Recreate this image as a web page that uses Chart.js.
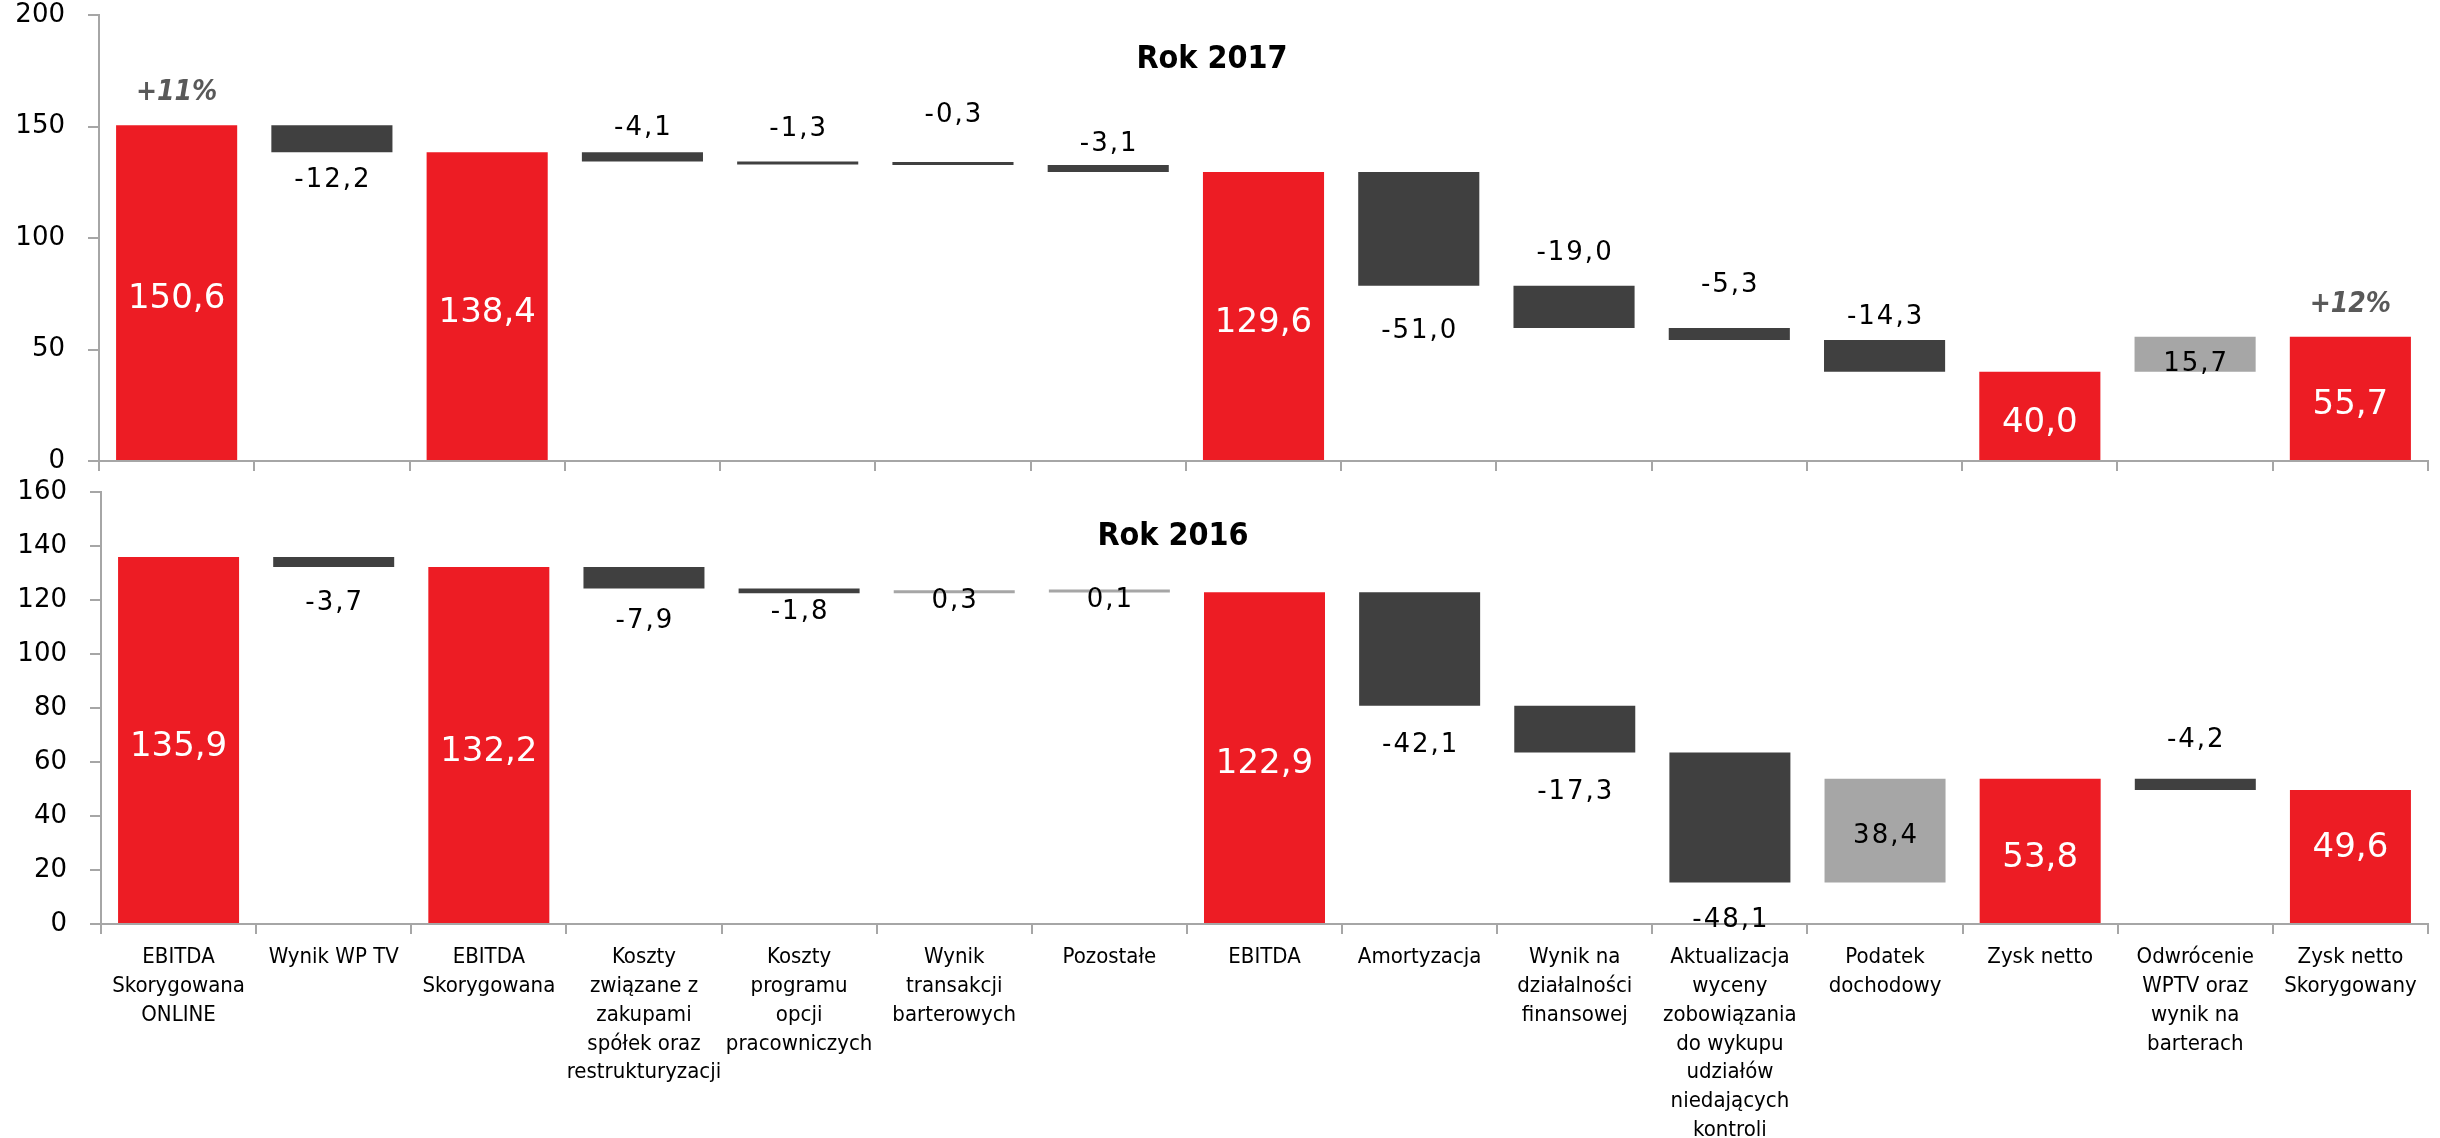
<!DOCTYPE html>
<html lang="pl">
<head>
<meta charset="utf-8">
<title>Rok 2017 / Rok 2016</title>
<script src="https://cdn.jsdelivr.net/npm/chart.js@4.4.1/dist/chart.umd.min.js"></script>
<style>
    body { margin: 0; background: #fff; }
    #wrap { position: relative; width: 2440px; height: 1138px; }
    #wykres2016 { position: absolute; left: 0; top: 470px; }
    #wykres2017 { position: absolute; left: 0; top: 0; }
</style>
</head>
<body>
<div id="wrap">
    <canvas id="wykres2016" width="2440" height="668"></canvas>
    <canvas id="wykres2017" width="2440" height="480"></canvas>
</div>
<script>
// Kategorie (wspólne dla obu lat)
const kategorie = [
    ['EBITDA', 'Skorygowana', 'ONLINE'],
    ['Wynik WP TV'],
    ['EBITDA', 'Skorygowana'],
    ['Koszty', 'związane z', 'zakupami', 'spółek oraz', 'restrukturyzacji'],
    ['Koszty', 'programu', 'opcji', 'pracowniczych'],
    ['Wynik', 'transakcji', 'barterowych'],
    ['Pozostałe'],
    ['EBITDA'],
    ['Amortyzacja'],
    ['Wynik na', 'działalności', 'finansowej'],
    ['Aktualizacja', 'wyceny', 'zobowiązania', 'do wykupu', 'udziałów', 'niedających', 'kontroli'],
    ['Podatek', 'dochodowy'],
    ['Zysk netto'],
    ['Odwrócenie', 'WPTV oraz', 'wynik na', 'barterach'],
    ['Zysk netto', 'Skorygowany']
];

// 'suma' = słupek od zera, 'zmiana' = słupek pływający
const typ = ['suma', 'zmiana', 'suma', 'zmiana', 'zmiana', 'zmiana', 'zmiana', 'suma',
             'zmiana', 'zmiana', 'zmiana', 'zmiana', 'suma', 'zmiana', 'suma'];

const wartosci2017 = [150.6, -12.2, 138.4, -4.1, -1.3, -0.3, -3.1, 129.6, -51.0, -19.0, -5.3, -14.3, 40.0, 15.7, 55.7];
const wartosci2016 = [135.9, -3.7, 132.2, -7.9, -1.8, 0.3, 0.1, 122.9, -42.1, -17.3, -48.1, 38.4, 53.8, -4.2, 49.6];

const dynamika2017 = ['+11%', null, null, null, null, null, null, null, null, null, null, null, null, null, '+12%'];

const osY2017 = [0, 50, 100, 150, 200];
const osY2016 = [0, 20, 40, 60, 80, 100, 120, 140, 160];

// Położenie etykiet wartości (in / above / below) i odstęp w px
const etykiety2017 = ['in', 'below', 'in', 'above', 'above', 'above', 'above', 'in', 'below', 'above', 'above', 'above', 'in', 'in', 'in'];
const odstep2017 = [7, 28, 7, 24, 32, 47, 21, 7, 46, 32, 43, 23, 7, 10, 7];
const etykiety2016 = ['in', 'below', 'in', 'below', 'below', 'below', 'below', 'in', 'below', 'below', 'below', 'in', 'in', 'above', 'in'];
const odstep2016 = [7, 36, 7, 33, 19, 8, 8, 7, 39, 40, 38, 6, 7, 38, -8];

const CZERWONY = '#ED1C24';
const CIEMNY = '#404040';
const JASNY = '#A6A6A6';
const OS = '#A6A6A6';

// Buduje słupki pływające z narastającej sumy
function zbudujKroki(wartosci) {
    let suma = 0;
    return wartosci.map((v, i) => {
        if (typ[i] === 'suma') {
            suma = v;
            return [0, v];
        }
        const start = suma;
        suma = Math.round((suma + v) * 10) / 10;
        return [start, suma];
    });
}

function kolory(wartosci) {
    return wartosci.map((v, i) => {
        if (typ[i] === 'suma') return CZERWONY;
        return v < 0 ? CIEMNY : JASNY;
    });
}

const fmt = v => v.toFixed(1).replace('.', ',');

// Etykiety wartości, tytuł i dynamika rysowane po słupkach
function wtyczkaEtykiet(cfg) {
    return {
        id: 'etykiety',
        afterDatasetsDraw(chart) {
            const ctx = chart.ctx;
            const meta = chart.getDatasetMeta(0);
            ctx.save();
            ctx.textAlign = 'center';
            ctx.textBaseline = 'middle';
            meta.data.forEach((bar, i) => {
                const v = cfg.wartosci[i];
                const gora = Math.min(bar.y, bar.base);
                const dol = Math.max(bar.y, bar.base);
                let y;
                if (cfg.pozycje[i] === 'above') y = gora - cfg.odstepy[i];
                else if (cfg.pozycje[i] === 'below') y = dol + cfg.odstepy[i];
                else y = (gora + dol) / 2 + cfg.odstepy[i];
                if (typ[i] === 'suma') {
                    ctx.font = '34px "DejaVu Sans"';
                    ctx.fillStyle = '#fff';
                    ctx.letterSpacing = '0px';
                    ctx.fillText(fmt(v), bar.x, y);
                } else {
                    ctx.font = '26px "DejaVu Sans"';
                    ctx.fillStyle = '#000';
                    ctx.letterSpacing = '2px';
                    ctx.fillText(fmt(v), bar.x + 1, y);
                }
                ctx.letterSpacing = '0px';

                if (cfg.dynamika && cfg.dynamika[i]) {
                    ctx.font = 'italic bold 28px "DejaVu Sans Condensed", "DejaVu Sans"';
                    ctx.fillStyle = '#595959';
                    ctx.fillText(cfg.dynamika[i], bar.x, gora - 32);
                }
            });
            ctx.font = 'bold 32px "DejaVu Sans Condensed", "DejaVu Sans"';
            ctx.fillStyle = '#000';
            ctx.fillText(cfg.tytul, cfg.tytulX, chart.chartArea.top + 45);
            ctx.restore();
        }
    };
}

function rysujWykres(id, cfg) {
    const ctx = document.getElementById(id).getContext('2d');
    return new Chart(ctx, {
        type: 'bar',
        data: {
            labels: kategorie,
            datasets: [{
                data: zbudujKroki(cfg.wartosci),
                backgroundColor: kolory(cfg.wartosci),
                borderWidth: 0,
                barPercentage: 0.78,
                categoryPercentage: 1,
                minBarLength: 3
            }]
        },
        options: {
            responsive: false,
            animation: false,
            layout: { padding: { top: cfg.padTop, right: 12, bottom: 0, left: 0 } },
            plugins: {
                legend: { display: false },
                tooltip: { enabled: false },
                title: { display: false }
            },
            scales: {
                x: {
                    border: { color: OS, width: 2 },
                    grid: { drawOnChartArea: false, color: OS, lineWidth: 2, tickLength: 10 },
                    ticks: {
                        display: cfg.podpisyX,
                        autoSkip: false,
                        maxRotation: 0,
                        minRotation: 0,
                        padding: 9,
                        color: '#000',
                        font: { family: '"DejaVu Sans Condensed", "DejaVu Sans"', size: 22, lineHeight: 1.31 }
                    },
                    afterFit: scale => {
                        scale.height = cfg.wysokoscX;
                        scale.paddingLeft = 0;
                        scale.paddingRight = 0;
                    }
                },
                y: {
                    min: cfg.osY[0],
                    max: cfg.osY[cfg.osY.length - 1],
                    border: { color: OS, width: 2 },
                    grid: { drawOnChartArea: false, color: OS, lineWidth: 2, tickLength: 11 },
                    ticks: {
                        stepSize: cfg.osY[1] - cfg.osY[0],
                        padding: 23,
                        color: '#000',
                        font: { family: '"DejaVu Sans"', size: 26 }
                    },
                    afterFit: scale => {
                        scale.width = cfg.szerokoscY;
                        // bez dodatkowego marginesu nad i pod osią
                        scale.paddingTop = 0;
                        scale.paddingBottom = 0;
                    }
                }
            }
        },
        plugins: [wtyczkaEtykiet({
            wartosci: cfg.wartosci,
            pozycje: cfg.pozycje,
            odstepy: cfg.odstepy,
            dynamika: cfg.dynamika,
            tytul: cfg.tytul,
            tytulX: cfg.tytulX
        })]
    });
}

rysujWykres('wykres2017', {
    wartosci: wartosci2017,
    pozycje: etykiety2017,
    odstepy: odstep2017,
    dynamika: dynamika2017,
    osY: osY2017,
    tytul: 'Rok 2017',
    tytulX: 1212,
    padTop: 15,
    podpisyX: false,
    wysokoscX: 19,
    szerokoscY: 99
});

rysujWykres('wykres2016', {
    wartosci: wartosci2016,
    pozycje: etykiety2016,
    odstepy: odstep2016,
    dynamika: null,
    osY: osY2016,
    tytul: 'Rok 2016',
    tytulX: 1173,
    padTop: 22,
    podpisyX: true,
    wysokoscX: 214,
    szerokoscY: 101
});
</script>
</body>
</html>
